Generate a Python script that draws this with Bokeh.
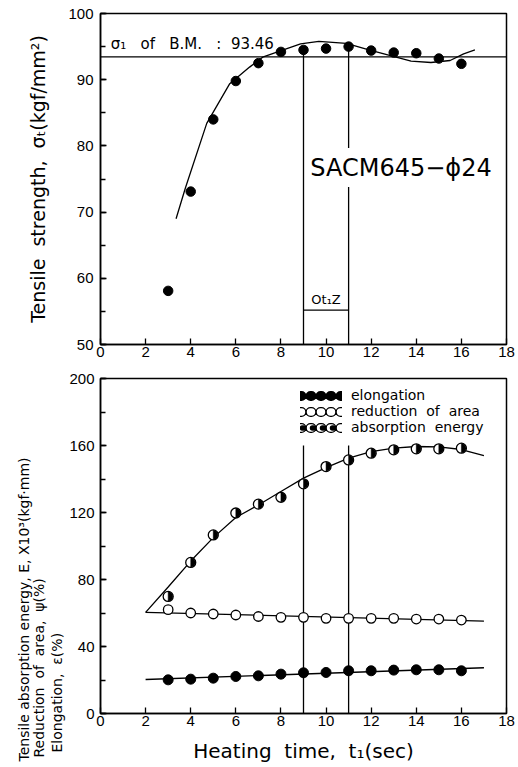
from math import pi
from bokeh.plotting import figure
from bokeh.models import (ColumnDataSource, Range1d, SingleIntervalTicker, Label,
                          Legend, LegendItem, Span, Title)
from bokeh.layouts import column
from bokeh.embed import file_html
from bokeh.resources import INLINE

# ---------------- data: tensile strength ----------------
t_top = [3, 4, 5, 6, 7, 8, 9, 10, 11, 12, 13, 14, 15, 16]
strength = [58.1, 73.1, 84.0, 89.8, 92.5, 94.2, 94.5, 94.7, 95.0, 94.4, 94.1, 94.0, 93.2, 92.4]
fit_t = [3.35, 3.76, 4.71, 5.73, 6.61, 7.19, 7.85, 8.87, 9.68, 10.9, 11.9, 12.9, 13.77, 14.65, 15.5, 16.1, 16.6]
fit_s = [69.0, 73.6, 83.4, 89.4, 91.9, 93.4, 94.2, 95.4, 95.8, 95.5, 94.5, 93.6, 92.8, 92.6, 92.9, 93.9, 94.5]
sigma_bm = 93.46
ozt = [9, 11]
ozt_bar = 55.2

# ---------------- data: elongation / reduction / energy ----------------
t_bot = [3, 4, 5, 6, 7, 8, 9, 10, 11, 12, 13, 14, 15, 16]
energy = [69.9, 90.2, 106.6, 119.7, 125.0, 129.1, 137.1, 147.4, 151.4, 155.4, 157.4, 158.0, 158.0, 158.4]
reduction = [62.0, 60.0, 59.4, 58.8, 57.9, 57.4, 57.4, 56.8, 56.8, 56.8, 56.8, 56.4, 56.4, 55.8]
elongation = [20.1, 20.5, 21.1, 22.1, 22.5, 23.5, 24.3, 24.5, 25.5, 25.5, 25.9, 26.1, 26.1, 25.5]
energy_fit_t = [2, 3, 4, 5, 6, 7, 8, 9, 10, 11, 12, 13, 14, 15, 16, 17]
energy_fit = [60.4, 75.5, 91.0, 105.0, 117.0, 124.5, 132.5, 140.5, 146.8, 152.5, 156.3, 158.4, 159.4, 159.2, 157.6, 154.0]
red_fit_t = [2, 17]
red_fit = [60.4, 55.2]
elo_fit_t = [2, 17]
elo_fit = [20.3, 27.3]
ozt_top_bot = 160

x_ticks_interval = 2

TXT = "DejaVu Sans"
NUM = "Liberation Sans"
S2 = "\u00a0 "          # wide gap (SVG collapses plain repeated spaces)
S3 = "\u00a0\u00a0 "


def style(p, yint, ystand):
    p.grid.visible = False
    p.outline_line_color = "black"
    p.outline_line_width = 1.5
    p.xaxis.ticker = SingleIntervalTicker(interval=x_ticks_interval, num_minor_ticks=0)
    p.yaxis.ticker = SingleIntervalTicker(interval=yint, num_minor_ticks=2)
    p.xaxis.minor_tick_line_color = None
    for ax in p.axis:
        ax.axis_line_color = "black"
        ax.axis_line_width = 1.5
        ax.major_tick_in = 6
        ax.major_tick_out = 0
        ax.minor_tick_in = 5
        ax.minor_tick_out = 0
        ax.major_tick_line_color = "black"
        ax.major_tick_line_width = 1.3
        ax.minor_tick_line_width = 1.3
        ax.major_label_text_font = NUM
        ax.major_label_text_font_size = "15px"
        ax.major_label_text_color = "black"
    p.xaxis.major_label_standoff = 2
    p.yaxis.major_label_standoff = ystand


# ================= top figure =================
p1 = figure(width=518, height=366, x_range=Range1d(0, 18), y_range=Range1d(50, 100),
            output_backend="svg", toolbar_location=None,
            min_border_left=96, min_border_right=12, min_border_top=13, min_border_bottom=22)
style(p1, 10, 7)
p1.yaxis.axis_label = "Tensile" + S2 + "strength," + S2 + "σₜ(kgf/mm²)"
p1.yaxis.axis_label_text_font = TXT
p1.yaxis.axis_label_text_font_size = "19px"
p1.yaxis.axis_label_text_font_style = "normal"
p1.yaxis.axis_label_text_color = "black"
p1.yaxis.axis_label_standoff = 16

p1.add_layout(Span(location=sigma_bm, dimension="width", line_color="black", line_width=1.3))

# vertical lines at optimum heating time bounds
s_at = dict(zip(t_top, strength))
gap_lo, gap_hi = 73.8, 79.7
p1.segment(x0=[ozt[0], ozt[1], ozt[1]], y0=[50, 50, gap_hi],
           x1=[ozt[0], ozt[1], ozt[1]], y1=[s_at[ozt[0]], gap_lo, s_at[ozt[1]]],
           line_color="black", line_width=1.3)
p1.segment(x0=[ozt[0]], y0=[ozt_bar], x1=[ozt[1]], y1=[ozt_bar], line_color="black", line_width=1.3)

p1.line(fit_t, fit_s, line_color="black", line_width=1.3)
p1.scatter(t_top, strength, size=9.5, marker="circle", fill_color="black", line_color="black")

p1.add_layout(Label(x=0.45, y=sigma_bm, y_offset=4,
                    text="σ₁" + S3 + "of" + S3 + "B.M." + S3 + ":" + S2 + "93.46",
                    text_font=TXT, text_font_size="15px", text_baseline="bottom", text_color="black"))
p1.add_layout(Label(x=9.3, y=76.6, text="SACM645−ɸ24", text_font=TXT, text_font_size="24px",
                    text_baseline="middle", text_color="black"))
p1.add_layout(Label(x=(ozt[0] + ozt[1]) / 2, y=ozt_bar, y_offset=3, text="Ot₁Z", text_font=TXT,
                    text_font_size="13px", text_align="center", text_baseline="bottom", text_color="black"))

# ================= bottom figure =================
p2 = figure(width=518, height=401, x_range=Range1d(0, 18), y_range=Range1d(0, 200),
            output_backend="svg", toolbar_location=None,
            min_border_left=100, min_border_right=8, min_border_top=12, min_border_bottom=54)
style(p2, 40, 6)
p2.xaxis.axis_label = "Heating" + S2 + "time," + S2 + "t₁(sec)"
p2.xaxis.axis_label_text_font = TXT
p2.xaxis.axis_label_text_font_size = "20px"
p2.xaxis.axis_label_text_font_style = "normal"
p2.xaxis.axis_label_text_color = "black"
p2.xaxis.axis_label_standoff = 10

p2.segment(x0=ozt, y0=[0, 0], x1=ozt, y1=[ozt_top_bot, ozt_top_bot], line_color="black", line_width=1.3)

p2.line(energy_fit_t, energy_fit, line_color="black", line_width=1.3)
p2.line(red_fit_t, red_fit, line_color="black", line_width=1.3)
p2.line(elo_fit_t, elo_fit, line_color="black", line_width=1.3)

p2.scatter(t_bot, elongation, size=10, marker="circle", fill_color="black", line_color="black")
p2.scatter(t_bot, reduction, size=9.5, marker="circle", fill_color="white", line_color="black", line_width=1.3)
p2.scatter(t_bot, energy, size=10, marker="circle", fill_color="white", line_color="black", line_width=1.3)
p2.wedge(t_bot, energy, radius=4.6, radius_units="screen", start_angle=-pi / 2, end_angle=pi / 2,
         fill_color="black", line_color="black", line_width=0.5)

# legend (chains of circles drawn by dotted round-capped lines)
nan = float("nan")
lsrc = ColumnDataSource(dict(x=[nan], y=[nan]))
dot = dict(line_cap="round", line_dash="1 9")
r_el = p2.line("x", "y", source=lsrc, line_width=10, line_color="black", **dot)
r_ro = p2.line("x", "y", source=lsrc, line_width=10, line_color="black", **dot)
r_ri = p2.line("x", "y", source=lsrc, line_width=7.4, line_color="white", **dot)
r_eo = p2.line("x", "y", source=lsrc, line_width=10, line_color="black", **dot)
r_ei = p2.line("x", "y", source=lsrc, line_width=7.4, line_color="white", **dot)
r_eh = p2.line("x", "y", source=lsrc, line_width=5.5, line_color="black", line_dash_offset=8, **dot)
legend = Legend(items=[LegendItem(label="elongation", renderers=[r_el]),
                       LegendItem(label="reduction" + S2 + "of" + S2 + "area", renderers=[r_ro, r_ri]),
                       LegendItem(label="absorption" + S2 + "energy", renderers=[r_eo, r_ei, r_eh])],
                location=(200, 278), glyph_width=42, glyph_height=15, label_height=15,
                label_standoff=9, spacing=0, padding=0, margin=0,
                border_line_alpha=0, background_fill_alpha=0,
                label_text_font=TXT, label_text_font_size="14px", label_text_color="black",
                label_text_baseline="middle", label_text_line_height=1.0)
p2.add_layout(legend)

# multi-line rotated y label: stacked left titles, started near the bottom
for text, off, stand in [("Elongation," + S2 + "ε(%)", -39, 3),
                         ("Reduction" + S2 + "of" + S2 + "area," + S2 + "ψ(%)", -44, -3),
                         ("Tensile absorption energy, E, X10³(kgf·mm)", -48, -3)]:
    p2.add_layout(Title(text=text, align="left", offset=off, standoff=stand,
                        text_font=TXT, text_font_size="14px", text_font_style="normal",
                        text_line_height=0.9, text_color="black"), "left")

layout = column(p1, p2)
open("out.html", "w").write(file_html(layout, INLINE))
